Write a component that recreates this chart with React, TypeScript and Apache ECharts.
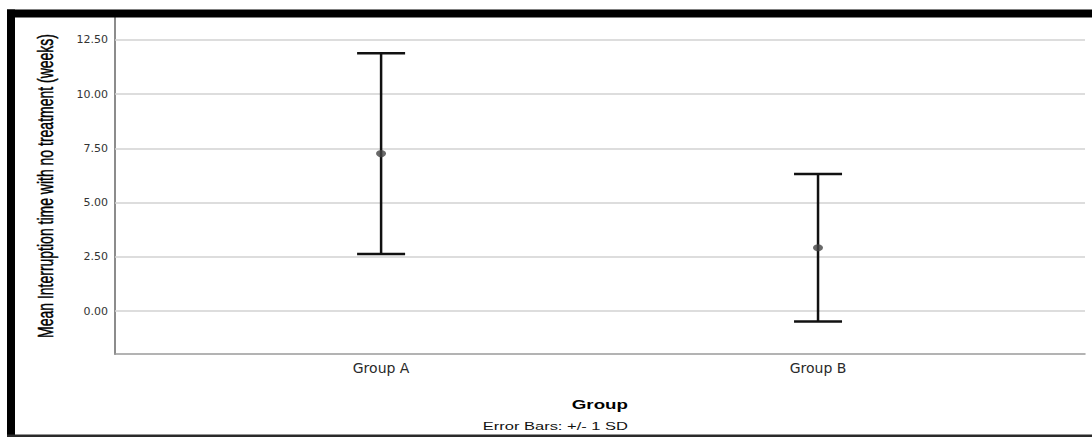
import React, { useEffect, useRef } from "react";
import * as echarts from "echarts";

const categories = ["Group A", "Group B"];
const means = [7.26, 2.92];
const lowerSD = [2.63, -0.48];
const upperSD = [11.89, 6.32];
const yTicks = [0, 2.5, 5, 7.5, 10, 12.5];

export default function App() {
  const ref = useRef<HTMLDivElement>(null);
  useEffect(() => {
    if (!ref.current) return;
    const chart = echarts.init(ref.current, null, { renderer: "svg" });
    const option: any = {
      animation: false,
      backgroundColor: "#ffffff",
      grid: { left: 115, right: 7, top: 17, bottom: 83 },
      xAxis: {
        type: "value",
        min: 0.391,
        max: 2.611,
        splitLine: { show: false },
        axisTick: { show: false },
        axisLine: { show: true, onZero: false, lineStyle: { color: "#9a9a9a", width: 1.5 } },
        axisLabel: {
          customValues: categories.map((_, i) => i + 1),
          formatter: (v: number) => categories[Math.round(v) - 1] ?? "",
          margin: 7,
          color: "#2a2a2a",
          fontFamily: "DejaVu Sans",
          fontSize: 14,
        },
      },
      yAxis: {
        type: "value",
        min: -1.98,
        max: 13.56,
        splitLine: { show: false },
        axisTick: { show: false },
        axisLine: { show: true, onZero: false, lineStyle: { color: "#8c8c8c", width: 2 } },
        axisLabel: {
          customValues: yTicks,
          formatter: (v: number) => v.toFixed(2),
          margin: 7,
          color: "#333",
          fontFamily: "DejaVu Sans",
          fontSize: 11,
        },
      },
      graphic: [
        { type: "rect", shape: { x: 7, y: 9.5, width: 1085, height: 8 }, style: { fill: "#000" }, z: 100 },
        { type: "rect", shape: { x: 7, y: 9.5, width: 8, height: 427.5 }, style: { fill: "#000" }, z: 100 },
        { type: "rect", shape: { x: 7, y: 434.5, width: 1085, height: 2.5 }, style: { fill: "#2a2a2a" }, z: 100 },
        {
          type: "text",
          x: 45,
          y: 186,
          rotation: Math.PI / 2,
          scaleY: 1.6,
          style: {
            text: "Mean Interruption time with no treatment (weeks)",
            fontFamily: "Liberation Sans",
            fontSize: 14,
            fill: "#000",
            stroke: "#000",
            lineWidth: 0.3,
            textAlign: "center",
            textVerticalAlign: "middle",
          },
        },
        {
          type: "text",
          x: 628,
          y: 405,
          scaleX: 1.5,
          style: {
            text: "Group",
            fontFamily: "Liberation Sans",
            fontWeight: "bold",
            fontSize: 12.5,
            fill: "#000",
            textAlign: "right",
            textVerticalAlign: "middle",
          },
        },
        {
          type: "text",
          x: 628,
          y: 426.5,
          scaleX: 1.5,
          style: {
            text: "Error Bars: +/- 1 SD",
            fontFamily: "Liberation Sans",
            fontSize: 11,
            fill: "#111",
            textAlign: "right",
            textVerticalAlign: "middle",
          },
        },
      ],
      series: [
        {
          type: "custom",
          z: 3,
          data: categories.map((_, i) => [i + 1, lowerSD[i], upperSD[i]]),
          renderItem: (params: any, api: any) => {
            const x = api.value(0);
            const lo = api.coord([x, api.value(1)]);
            const hi = api.coord([x, api.value(2)]);
            const hw = 24;
            const st = { stroke: "#111", lineWidth: 2.5 };
            return {
              type: "group",
              children: [
                { type: "line", shape: { x1: lo[0], y1: lo[1], x2: hi[0], y2: hi[1] }, style: st },
                { type: "line", shape: { x1: hi[0] - hw, y1: hi[1], x2: hi[0] + hw, y2: hi[1] }, style: st },
                { type: "line", shape: { x1: lo[0] - hw, y1: lo[1], x2: lo[0] + hw, y2: lo[1] }, style: st },
              ],
            };
          },
        },
        {
          type: "scatter",
          z: 4,
          symbol: "circle",
          symbolSize: [10, 7],
          itemStyle: { color: "#444" },
          data: categories.map((_, i) => [i + 1, means[i]]),
          markLine: {
            silent: true,
            symbol: "none",
            label: { show: false },
            z: 1,
            lineStyle: { color: "#d2d2d2", width: 1.5, type: "solid" },
            data: yTicks.map((t) => ({ yAxis: t })),
          },
        },
      ],
    };
    chart.setOption(option);
    return () => chart.dispose();
  }, []);
  return (
    <div
      ref={ref}
      style={{ position: "absolute", left: 0, top: 0, width: 1092, height: 437, background: "#fff" }}
    />
  );
}
